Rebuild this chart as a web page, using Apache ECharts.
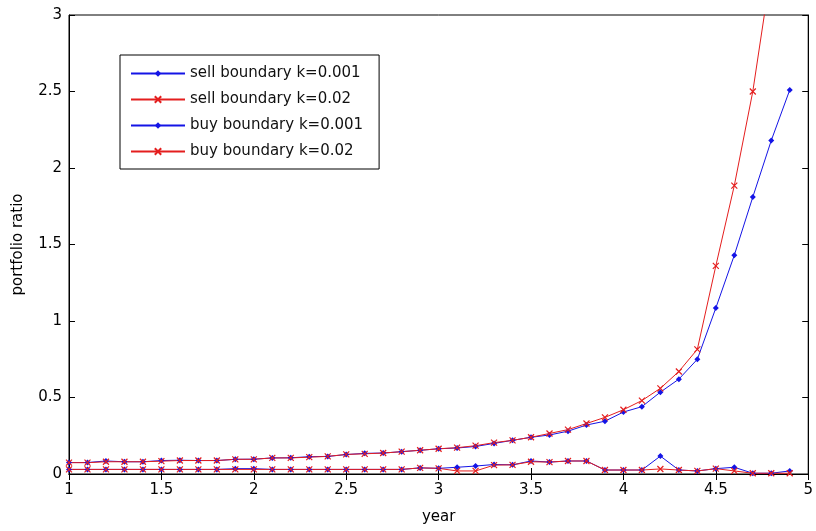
<!DOCTYPE html>
<html>
<head>
<meta charset="utf-8">
<script src="https://cdn.jsdelivr.net/npm/echarts@6/dist/echarts.min.js"></script>
<style>
  html, body { margin: 0; padding: 0; background: #fff; }
  #chart { width: 816px; height: 531px; }
</style>
</head>
<body>
<div id="chart"></div>
<script>
// years on the x axis
const years = [1.0, 1.1, 1.2, 1.3, 1.4, 1.5, 1.6, 1.7, 1.8, 1.9,
  2.0, 2.1, 2.2, 2.3, 2.4, 2.5, 2.6, 2.7, 2.8, 2.9,
  3.0, 3.1, 3.2, 3.3, 3.4, 3.5, 3.6, 3.7, 3.8, 3.9,
  4.0, 4.1, 4.2, 4.3, 4.4, 4.5, 4.6, 4.7, 4.8, 4.9]

const sellK001 = [0.075, 0.075, 0.085, 0.08, 0.08, 0.088, 0.09, 0.088, 0.088, 0.096,
  0.097, 0.105, 0.106, 0.113, 0.115, 0.127, 0.135, 0.137, 0.146, 0.155,
  0.165, 0.17, 0.18, 0.2, 0.22, 0.24, 0.255, 0.28, 0.32, 0.345,
  0.405, 0.44, 0.535, 0.62, 0.75, 1.085, 1.43, 1.81, 2.18, 2.51]

const sellK002 = [0.074, 0.074, 0.08, 0.08, 0.08, 0.084, 0.088, 0.088, 0.088, 0.096,
  0.096, 0.105, 0.105, 0.11, 0.115, 0.128, 0.132, 0.137, 0.146, 0.155,
  0.165, 0.172, 0.185, 0.205, 0.22, 0.24, 0.265, 0.29, 0.33, 0.37,
  0.42, 0.48, 0.56, 0.67, 0.815, 1.36, 1.885, 2.5, 3.3, 4.2]

const buyK001 = [0.03, 0.03, 0.03, 0.03, 0.03, 0.03, 0.03, 0.03, 0.03, 0.035,
  0.035, 0.03, 0.03, 0.03, 0.03, 0.03, 0.03, 0.03, 0.03, 0.04,
  0.037, 0.044, 0.052, 0.062, 0.06, 0.085, 0.078, 0.085, 0.085, 0.026,
  0.026, 0.026, 0.117, 0.026, 0.02, 0.035, 0.044, 0.005, 0.005, 0.02]

const buyK002 = [0.03, 0.03, 0.03, 0.03, 0.03, 0.03, 0.03, 0.03, 0.03, 0.03,
  0.03, 0.03, 0.03, 0.03, 0.03, 0.03, 0.03, 0.03, 0.03, 0.04,
  0.037, 0.02, 0.02, 0.058, 0.06, 0.08, 0.078, 0.085, 0.085, 0.026,
  0.026, 0.026, 0.033, 0.026, 0.02, 0.035, 0.02, 0.005, 0.005, 0.005]

const BLUE = '#1414e6'
const RED = '#e41e1e'
const FONT = 'DejaVu Sans'
const X_PATH = 'path://M0,0L10,10M10,0L0,10'

const toPairs = (values) => years.map((y, i) => [y, values[i]])

function makeSeries(name, values, color, isCross, clip) {
  return {
    name,
    type: 'line',
    data: toPairs(values),
    showAllSymbol: true,
    clip,
    symbol: isCross ? X_PATH : 'diamond',
    symbolSize: isCross ? 6 : 6,
    lineStyle: { color, width: 1 },
    itemStyle: isCross
      ? { color, borderColor: color, borderWidth: 1.2 }
      : { color },
    emphasis: { disabled: true },
  }
}

const chart = echarts.init(document.getElementById('chart'))

// axes style shared by the four sides of the box
const tickStyle = { show: true, inside: true, length: 6, lineStyle: { color: '#000' } }
const lineAxis = { show: true, lineStyle: { color: '#000', width: 1 } }
const labelStyle = { color: '#000', fontFamily: FONT, fontSize: 15 }

chart.setOption({
  animation: false,
  backgroundColor: '#fff',
  grid: { left: 69, right: 6, top: 15, bottom: 57, show: true, borderColor: '#000', borderWidth: 1 },
  legend: {
    orient: 'vertical',
    left: 120,
    top: 55,
    padding: [11, 16, 10, 10],
    itemGap: 11,
    itemWidth: 54,
    itemHeight: 8,
    backgroundColor: '#fff',
    borderColor: '#000',
    borderWidth: 1,
    textStyle: { color: '#111', fontFamily: FONT, fontSize: 15 },
    data: ['sell boundary k=0.001', 'sell boundary k=0.02', 'buy boundary k=0.001', 'buy boundary k=0.02'],
  },
  xAxis: [
    {
      type: 'value', min: 1, max: 5, interval: 0.5,
      name: 'year', nameLocation: 'middle', nameGap: 36,
      nameTextStyle: { color: '#000', fontFamily: FONT, fontSize: 15 },
      axisLine: lineAxis, axisTick: tickStyle,
      axisLabel: { ...labelStyle, margin: 9 },
      splitLine: { show: false },
    },
    {
      type: 'value', min: 1, max: 5, interval: 0.5, position: 'top',
      axisLine: lineAxis, axisTick: tickStyle,
      axisLabel: { show: false }, splitLine: { show: false },
    },
  ],
  yAxis: [
    {
      type: 'value', min: 0, max: 3, interval: 0.5,
      name: 'portfolio ratio', nameLocation: 'middle', nameGap: 43,
      nameTextStyle: { color: '#000', fontFamily: FONT, fontSize: 15 },
      axisLine: lineAxis, axisTick: tickStyle,
      axisLabel: { ...labelStyle, margin: 7 },
      splitLine: { show: false },
    },
    {
      type: 'value', min: 0, max: 3, interval: 0.5, position: 'right',
      axisLine: lineAxis, axisTick: tickStyle,
      axisLabel: { show: false }, splitLine: { show: false },
    },
  ],
  series: [
    makeSeries('sell boundary k=0.001', sellK001, BLUE, false, false),
    makeSeries('sell boundary k=0.02', sellK002, RED, true, true),
    makeSeries('buy boundary k=0.001', buyK001, BLUE, false, false),
    makeSeries('buy boundary k=0.02', buyK002, RED, true, false),
  ],
})
</script>
</body>
</html>
